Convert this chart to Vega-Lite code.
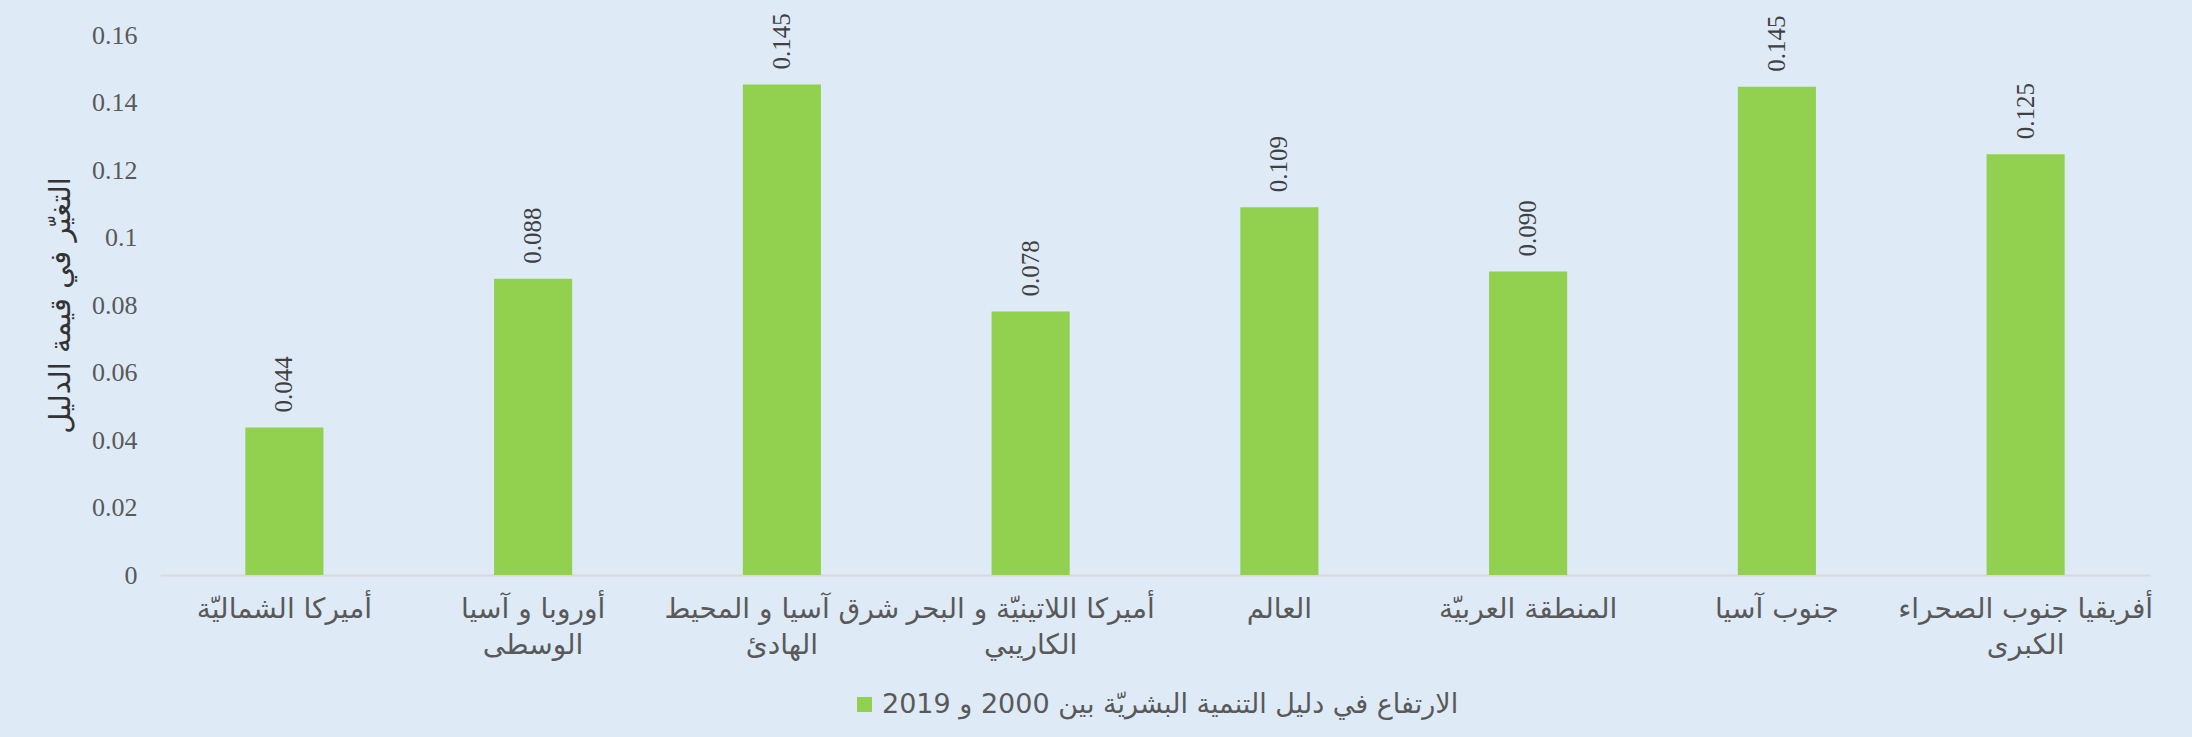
{
  "$schema": "https://vega.github.io/schema/vega-lite/v6.json",
  "width": 1990,
  "height": 540,
  "autosize": {"type": "none"},
  "padding": {"left": 160, "top": 35, "right": 42, "bottom": 162},
  "background": "#deebf7",
  "config": {
    "view": {"stroke": null},
    "legend": {"layout": {"bottom": {"anchor": "middle"}}}
  },
  "data": {
    "values": [
      {"region": "أميركا الشماليّة", "value": 0.0437, "series": "الارتفاع في دليل التنمية البشريّة بين 2000 و 2019"},
      {"region": "أوروبا و آسيا الوسطى", "value": 0.0878, "series": "الارتفاع في دليل التنمية البشريّة بين 2000 و 2019"},
      {"region": "شرق آسيا و المحيط الهادئ", "value": 0.1453, "series": "الارتفاع في دليل التنمية البشريّة بين 2000 و 2019"},
      {"region": "أميركا اللاتينيّة و البحر الكاريبي", "value": 0.0781, "series": "الارتفاع في دليل التنمية البشريّة بين 2000 و 2019"},
      {"region": "العالم", "value": 0.109, "series": "الارتفاع في دليل التنمية البشريّة بين 2000 و 2019"},
      {"region": "المنطقة العربيّة", "value": 0.0899, "series": "الارتفاع في دليل التنمية البشريّة بين 2000 و 2019"},
      {"region": "جنوب آسيا", "value": 0.1447, "series": "الارتفاع في دليل التنمية البشريّة بين 2000 و 2019"},
      {"region": "أفريقيا جنوب الصحراء الكبرى", "value": 0.1247, "series": "الارتفاع في دليل التنمية البشريّة بين 2000 و 2019"}
    ]
  },
  "encoding": {
    "x": {
      "field": "region",
      "type": "nominal",
      "sort": null,
      "scale": {"paddingInner": 0.686, "paddingOuter": 0.343},
      "axis": {
        "title": null,
        "labelAngle": 0,
        "ticks": false,
        "domainColor": "#d9d9d9",
        "domainWidth": 2,
        "labelFont": "DejaVu Sans",
        "labelFontSize": 28,
        "labelColor": "#595959",
        "labelPadding": 20,
        "labelLineHeight": 36,
        "labelLimit": 500,
        "labelBaseline": "top",
        "labelExpr": "datum.label == 'أوروبا و آسيا الوسطى' ? ['أوروبا و آسيا', 'الوسطى'] : datum.label == 'شرق آسيا و المحيط الهادئ' ? ['شرق آسيا و المحيط', 'الهادئ'] : datum.label == 'أميركا اللاتينيّة و البحر الكاريبي' ? ['أميركا اللاتينيّة و البحر', 'الكاريبي'] : datum.label == 'أفريقيا جنوب الصحراء الكبرى' ? ['أفريقيا جنوب الصحراء', 'الكبرى'] : datum.label"
      }
    },
    "y": {
      "field": "value",
      "type": "quantitative",
      "scale": {"domain": [0, 0.16], "nice": false},
      "axis": {
        "title": "التغيّر في قيمة الدليل",
        "titleFont": "DejaVu Sans",
        "titleFontSize": 29,
        "titleFontWeight": "normal",
        "titleColor": "#333333",
        "titlePadding": 16,
        "values": [0, 0.02, 0.04, 0.06, 0.08, 0.1, 0.12, 0.14, 0.16],
        "format": "~g",
        "grid": false,
        "domain": false,
        "ticks": false,
        "labelFont": "Liberation Serif",
        "labelFontSize": 26,
        "labelColor": "#595959",
        "labelPadding": 23
      }
    }
  },
  "layer": [
    {
      "mark": {"type": "bar", "color": "#92d050"},
      "encoding": {
        "color": {
          "field": "series",
          "type": "nominal",
          "scale": {"range": ["#92d050"]},
          "legend": {
            "title": null,
            "orient": "bottom",
            "direction": "horizontal",
            "symbolType": "square",
            "symbolSize": 225,
            "symbolStrokeWidth": 0,
            "labelFont": "DejaVu Sans",
            "labelFontSize": 27,
            "labelColor": "#595959",
            "labelLimit": 900,
            "offset": 32
          }
        }
      }
    },
    {
      "mark": {
        "type": "text",
        "angle": -90,
        "align": "left",
        "baseline": "middle",
        "dx": 15,
        "font": "Liberation Serif",
        "fontSize": 25,
        "color": "#404040"
      },
      "encoding": {
        "text": {"field": "value", "type": "quantitative", "format": ".3f"}
      }
    }
  ]
}
